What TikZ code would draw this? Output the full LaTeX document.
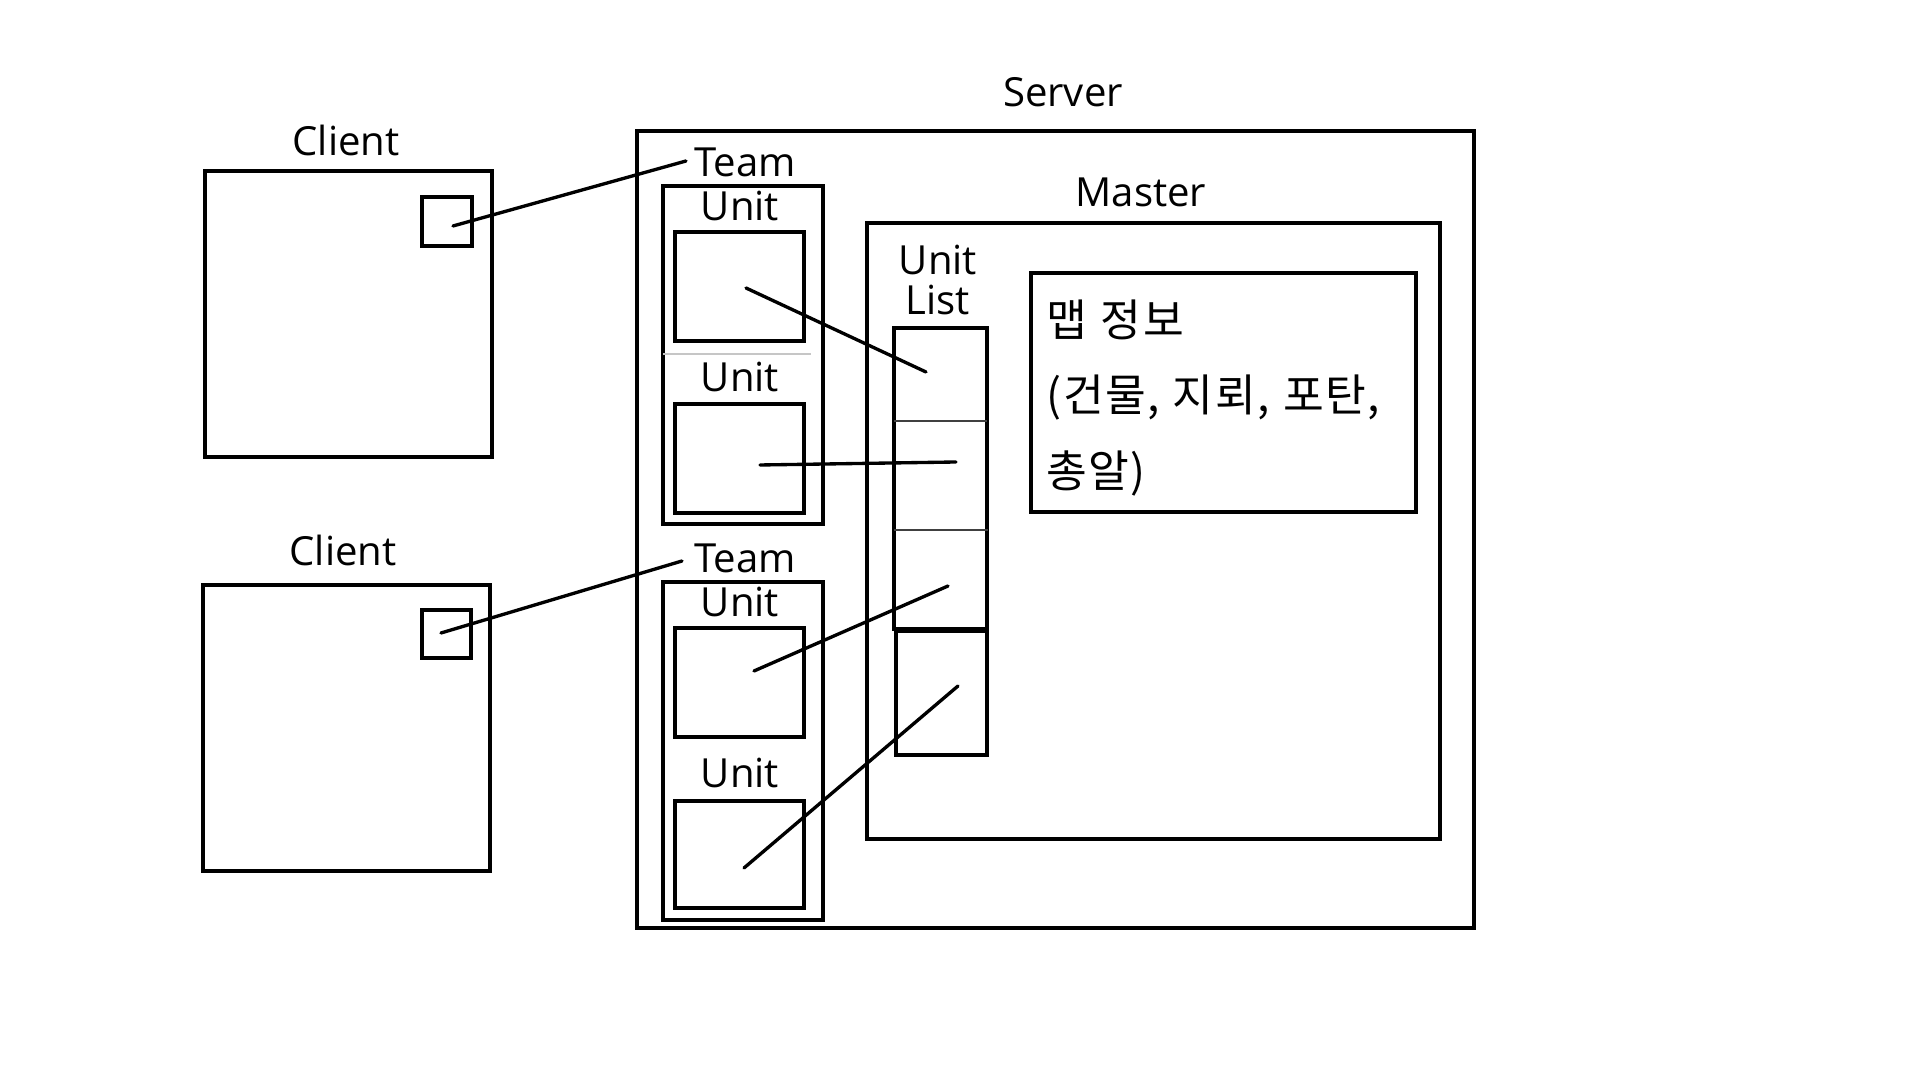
\documentclass[tikz,border=0pt]{standalone}
\usepackage{fontspec}
\setmainfont{Open Sans}
\newfontfamily\krfont[LetterSpace=3.0, WordSpace=1.2]{Noto Sans CJK KR}
\usetikzlibrary{fit, positioning}

\begin{document}
\begin{tikzpicture}[
        x=0.01cm, y=-0.01cm,
        box/.style={draw, line width=0.95pt, inner sep=0pt, outer sep=0pt},
        cellsep/.style={draw=black!75, line width=0.4pt},
        softsep/.style={draw=gray!45, line width=0.35pt},
        link/.style={line width=0.95pt, line cap=round},
        lbl/.style={font=\fontsize{11.4}{11.1}\selectfont, inner sep=0pt, align=center},
        maptext/.style={font=\krfont\fontsize{12.6}{21.6}\selectfont, align=left, inner sep=0pt}
    ]
        \useasboundingbox[fill=white] (0,0) rectangle (1920,1080);

        % clients
        \node[box, fit={(205,171) (492,457)}] (client1) {};
        \node[box, fit={(422,197) (472,246)}] (cam1) {};
        \node[box, fit={(203,585) (490,871)}] (client2) {};
        \node[box, fit={(422,610) (471,658)}] (cam2) {};
        \node[lbl] at (346,140) {Client};
        \node[lbl] at (343,550) {Client};

        % server
        \node[box, fit={(637,131) (1474,928)}] (server) {};
        \node[lbl] at (1063,92) {Server};

        % teams and units
        \node[box, fit={(663,186) (823,524)}] (team1) {};
        \node[box, fit={(675,232) (804,341)}] (unit1) {};
        \node[box, fit={(675,404) (804,513)}] (unit2) {};
        \draw[softsep] (663,354) -- (811,354);
        \node[box, fit={(663,582) (823,920)}] (team2) {};
        \node[box, fit={(675,628) (804,737)}] (unit3) {};
        \node[box, fit={(675,801) (804,908)}] (unit4) {};
        \node[lbl] (team1lbl) at (745,162) {Team};
        \node[lbl] (team2lbl) at (745,558) {Team};
        \node[lbl] at (740,206) {Unit};
        \node[lbl] at (740,377) {Unit};
        \node[lbl] at (740,602) {Unit};
        \node[lbl] at (740,773) {Unit};

        % master
        \node[box, fit={(867,223) (1440,839)}] (master) {};
        \node[lbl] at (1141,192) {Master};
        \node[lbl] at (938,280) {Unit\\List};
        \node[box, fit={(894,328) (987,629)}] (ulist) {};
        \draw[cellsep] (894,421) -- (987,421);
        \draw[cellsep] (894,530) -- (988,530);
        \node[box, fit={(896,631) (987,755)}] (ulist4) {};
        \node[box, fit={(1031,273) (1416,512)}] (mapinfo) {};
        \node[maptext, anchor=west] at (1046,398) {맵 정보\\(건물, 지뢰, 포탄,\\총알)};

        % link ends
        \coordinate (cam1p) at (453,226);
        \coordinate (cam2p) at (441,633);
        \coordinate (team1p) at (686,161);
        \coordinate (team2p) at (682,561);
        \coordinate (unit1p) at (746,288);
        \coordinate (unit2p) at (760,465);
        \coordinate (unit3p) at (754,671);
        \coordinate (unit4p) at (744,868);
        \coordinate (cell1p) at (926,372);
        \coordinate (cell2p) at (956,462);
        \coordinate (cell3p) at (948,586);
        \coordinate (cell4p) at (958,686);

        \draw[link] (cam1p) -- (team1p);
        \draw[link] (cam2p) -- (team2p);
        \draw[link] (unit1p) -- (cell1p);
        \draw[link] (unit2p) -- (cell2p);
        \draw[link] (unit3p) -- (cell3p);
        \draw[link] (unit4p) -- (cell4p);
    \end{tikzpicture}
\end{document}
